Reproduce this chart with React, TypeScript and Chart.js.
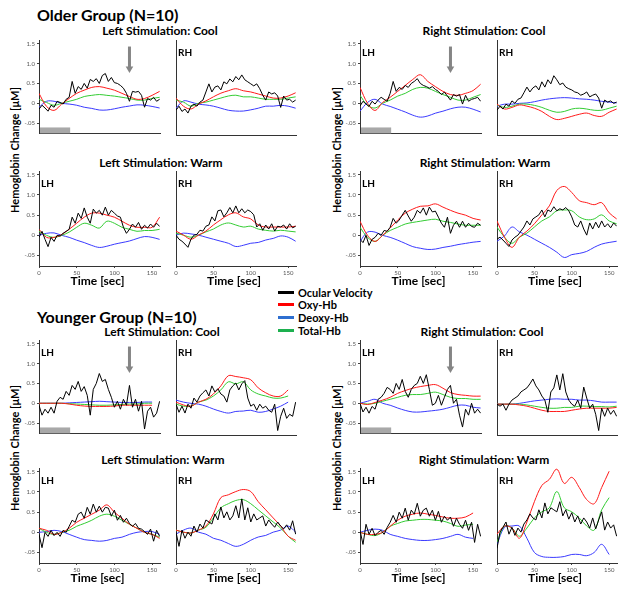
import React, { useEffect, useRef } from "react";
import { Chart, registerables } from "chart.js";
Chart.register(...registerables);

// ---------- axes / time bases ----------
const T_VEL = [0,4,8,12,16,20,24,28,32,36,40,44,48,52,56,60,64,68,72,76,80,84,88,92,96,100,104,108,112,116,120,124,128,132,136,140,144,148,152,156,160];
const T_HB = [0,10,20,30,40,50,60,70,80,90,100,110,120,130,140,150,160];
const X_TICKS = [0, 50, 100, 150];
const X_TICK_LABELS = ["0", "50", "100", "150"];
const Y_TICKS = [1.5, 1.0, 0.5, 0, -0.5];
const Y_TICK_LABELS = ["1.5", "1.0", "0.5", "0", "-.05"];
const X_MIN = 0, X_MAX = 160.5;
const Y_MIN = -0.76, Y_MAX = 1.58;
const STIM_WINDOW = [0, 40];
const STIM_BAR_TOP = -0.61;
const ARROW_TIME = 120;
const ARROW_FROM = 1.43;
const ARROW_TO = 0.76;

// ---------- Older group ----------
const OLC_LH_VEL = [-0.15,-0.05,-0.12,-0.2,-0.05,-0.1,0.05,0.02,-0.02,0.1,0.15,0.55,0.25,0.42,0.35,0.5,0.38,0.6,0.55,0.62,0.5,0.7,0.75,0.55,0.65,0.52,0.5,0.45,0.38,0.25,0.05,0.3,0.28,0.3,0.2,-0.1,0.12,0.08,0.15,0.05,0.1];
const OLC_LH_OXY = [0.25,-0.08,-0.18,-0.02,0.12,0.25,0.33,0.4,0.42,0.38,0.33,0.25,0.17,0.1,0.12,0.2,0.3];
const OLC_LH_TOT = [0.1,0.02,-0.05,0.0,0.05,0.1,0.17,0.2,0.22,0.2,0.18,0.15,0.12,0.08,0.08,0.12,0.15];
const OLC_LH_DEO = [-0.1,0.05,0.05,0.0,-0.02,-0.05,-0.1,-0.13,-0.17,-0.17,-0.14,-0.1,-0.07,-0.04,-0.05,-0.08,-0.12];

const OLC_RH_VEL = [-0.15,-0.05,-0.18,-0.12,-0.22,-0.05,0.0,-0.05,0.05,0.1,0.3,0.5,0.3,0.42,0.45,0.35,0.55,0.5,0.62,0.55,0.68,0.6,0.72,0.6,0.55,0.5,0.45,0.5,0.38,0.22,0.1,0.3,0.25,0.28,0.2,-0.08,0.2,0.1,0.12,0.05,0.1];
const OLC_RH_OXY = [0.15,-0.05,-0.12,0.0,0.08,0.18,0.27,0.33,0.38,0.33,0.3,0.25,0.2,0.15,0.15,0.2,0.28];
const OLC_RH_TOT = [0.1,0.05,-0.05,0.02,0.05,0.1,0.15,0.2,0.22,0.18,0.18,0.15,0.12,0.12,0.12,0.15,0.18];
const OLC_RH_DEO = [-0.1,0.08,0.05,0.0,-0.02,-0.05,-0.1,-0.15,-0.17,-0.17,-0.14,-0.1,-0.05,-0.05,-0.03,-0.05,-0.1];

const ORC_LH_VEL = [-0.07,0.05,-0.02,-0.08,0.05,-0.02,0.08,0.15,0.1,0.05,0.25,0.55,0.3,0.4,0.35,0.45,0.4,0.5,0.55,0.62,0.5,0.45,0.42,0.38,0.42,0.35,0.3,0.22,0.28,0.18,0.08,0.22,0.18,0.22,-0.02,0.2,0.05,0.1,0.12,0.15,0.05];
const ORC_LH_OXY = [0.4,0.0,-0.18,0.02,0.15,0.3,0.45,0.6,0.72,0.55,0.42,0.3,0.22,0.2,0.25,0.32,0.48];
const ORC_LH_TOT = [0.2,-0.05,-0.12,0.0,0.08,0.18,0.25,0.35,0.4,0.38,0.3,0.22,0.15,0.08,0.08,0.15,0.22];
const ORC_LH_DEO = [-0.2,0.02,0.1,-0.02,-0.08,-0.15,-0.22,-0.3,-0.35,-0.32,-0.25,-0.2,-0.14,-0.1,-0.1,-0.15,-0.22];

const ORC_RH_VEL = [-0.15,-0.05,-0.12,0.0,-0.05,0.08,0.02,0.12,0.15,0.28,0.42,0.3,0.4,0.45,0.35,0.55,0.42,0.6,0.5,0.7,0.6,0.48,0.52,0.42,0.38,0.35,0.3,0.28,0.22,0.25,0.3,0.18,0.22,0.25,0.15,-0.1,0.1,0.05,0.08,0.02,0.05];
const ORC_RH_OXY = [0.0,-0.12,-0.08,-0.02,-0.05,-0.1,-0.18,-0.3,-0.38,-0.35,-0.3,-0.25,-0.22,-0.28,-0.3,-0.2,-0.12];
const ORC_RH_TOT = [-0.02,-0.08,-0.05,0.0,0.0,-0.03,-0.08,-0.15,-0.2,-0.18,-0.12,-0.1,-0.12,-0.15,-0.15,-0.1,-0.05];
const ORC_RH_DEO = [-0.05,0.0,0.0,0.02,0.03,0.06,0.1,0.13,0.15,0.16,0.15,0.13,0.12,0.1,0.07,0.05,0.03];

const OLW_LH_VEL = [-0.05,0.1,-0.1,-0.28,-0.05,-0.15,0.0,-0.02,0.05,0.1,0.15,0.45,0.3,0.55,0.42,0.68,0.45,0.3,0.65,0.55,0.62,0.5,0.7,0.5,0.62,0.55,0.48,0.45,0.2,0.05,0.15,0.28,0.2,0.32,0.15,0.25,0.18,0.28,0.2,0.3,0.22];
const OLW_LH_OXY = [0.15,-0.05,-0.05,0.02,0.15,0.3,0.45,0.55,0.55,0.5,0.45,0.35,0.25,0.2,0.2,0.2,0.45];
const OLW_LH_TOT = [0.1,0.0,-0.05,0.0,0.08,0.2,0.3,0.25,0.18,0.35,0.3,0.2,0.15,0.1,0.12,0.12,0.15];
const OLW_LH_DEO = [0.0,0.05,0.06,0.0,-0.05,-0.12,-0.18,-0.25,-0.3,-0.27,-0.22,-0.18,-0.14,-0.08,-0.03,-0.05,-0.1];

const OLW_RH_VEL = [0.0,-0.1,-0.15,-0.22,-0.3,-0.1,0.0,0.02,0.12,0.1,0.22,0.25,0.45,0.35,0.6,0.62,0.45,0.55,0.68,0.55,0.72,0.55,0.65,0.55,0.62,0.58,0.5,0.2,0.28,0.12,0.25,0.15,0.28,0.1,0.22,0.2,0.25,0.15,0.28,0.18,0.22];
const OLW_RH_OXY = [0.1,0.0,-0.1,0.0,0.1,0.25,0.38,0.5,0.55,0.45,0.4,0.25,0.2,0.2,0.2,0.2,0.22];
const OLW_RH_TOT = [0.05,0.0,-0.05,0.0,0.08,0.15,0.25,0.3,0.25,0.2,0.22,0.15,0.12,0.1,0.12,0.1,0.08];
const OLW_RH_DEO = [0.0,0.05,0.03,0.0,-0.05,-0.1,-0.15,-0.2,-0.28,-0.25,-0.2,-0.18,-0.12,-0.08,-0.02,-0.05,-0.15];

const ORW_LH_VEL = [-0.1,-0.18,0.0,-0.25,-0.1,-0.05,0.05,0.0,0.12,0.1,0.2,0.42,0.3,0.38,0.5,0.62,0.48,0.35,0.45,0.62,0.55,0.68,0.5,0.7,0.58,0.6,0.45,0.3,0.2,0.45,0.05,0.25,0.35,0.2,0.35,0.2,0.3,0.22,0.2,0.3,0.25];
const ORW_LH_OXY = [0.35,0.0,-0.15,0.0,0.18,0.38,0.55,0.65,0.72,0.73,0.78,0.7,0.62,0.55,0.5,0.42,0.38];
const ORW_LH_TOT = [0.2,-0.05,-0.15,0.0,0.12,0.2,0.28,0.32,0.35,0.38,0.4,0.35,0.32,0.28,0.25,0.25,0.25];
const ORW_LH_DEO = [-0.15,0.08,0.08,0.0,-0.05,-0.12,-0.2,-0.28,-0.32,-0.35,-0.34,-0.3,-0.27,-0.23,-0.2,-0.17,-0.15];

const ORW_RH_VEL = [-0.1,-0.05,-0.12,-0.2,-0.28,-0.12,-0.05,0.0,0.1,0.2,0.35,0.25,0.4,0.45,0.5,0.62,0.45,0.62,0.58,0.7,0.6,0.65,0.62,0.68,0.6,0.45,0.25,0.2,0.35,0.15,0.0,0.3,0.15,0.32,0.18,0.35,0.2,0.28,0.18,0.3,0.22];
const ORW_RH_OXY = [0.35,-0.05,-0.3,-0.05,0.1,0.28,0.5,0.72,1.1,1.2,1.05,0.85,0.8,0.75,0.8,0.55,0.4];
const ORW_RH_TOT = [0.2,-0.05,-0.2,-0.05,0.05,0.2,0.35,0.45,0.6,0.62,0.6,0.45,0.38,0.4,0.5,0.35,0.28];
const ORW_RH_DEO = [-0.15,-0.02,0.2,0.08,0.0,-0.1,-0.2,-0.3,-0.42,-0.55,-0.48,-0.45,-0.4,-0.3,-0.22,-0.18,-0.15];

// ---------- Younger group ----------
const YLC_LH_VEL = [-0.05,-0.3,-0.15,-0.25,-0.1,-0.25,0.05,0.15,0.1,0.3,0.2,0.45,0.35,0.55,0.3,0.42,0.2,-0.3,0.35,0.5,0.75,0.55,0.6,0.35,0.15,-0.1,0.05,-0.15,0.1,-0.05,0.45,-0.1,0.1,-0.2,0.05,-0.65,-0.2,-0.1,-0.35,-0.25,0.05];
const YLC_LH_OXY = [0,0,0,0,-0.02,-0.05,-0.07,-0.08,-0.08,-0.08,-0.07,-0.05,-0.05,-0.05,-0.05,-0.05,null];
const YLC_LH_TOT = [0,0,0,0,-0.01,-0.02,-0.03,-0.04,-0.05,-0.05,-0.04,-0.03,-0.02,-0.02,0.0,0.0,null];
const YLC_LH_DEO = [0,0,0,0,0.01,0.02,0.03,0.04,0.05,0.04,0.03,0.02,0.02,0.02,0.03,0.03,null];

const YLC_RH_VEL = [0.0,-0.2,-0.05,-0.22,0.0,-0.1,0.15,0.05,0.2,0.28,0.35,0.2,0.45,0.3,0.38,0.25,0.2,0.05,0.35,0.45,0.52,0.35,0.5,0.58,0.15,-0.05,0.0,-0.15,0.0,-0.1,-0.05,-0.15,-0.2,0.0,-0.65,-0.3,-0.1,-0.35,-0.25,-0.3,0.05];
const YLC_RH_OXY = [0.05,-0.02,-0.05,0.05,0.12,0.25,0.45,0.7,0.68,0.65,0.6,0.4,0.28,0.2,0.2,0.35,null];
const YLC_RH_TOT = [0.0,-0.05,-0.05,0.05,0.1,0.2,0.35,0.55,0.5,0.55,0.35,0.25,0.2,0.15,0.15,0.2,null];
const YLC_RH_DEO = [0.1,0.05,0.02,0.0,-0.05,-0.12,-0.18,-0.22,-0.18,-0.17,-0.15,-0.2,-0.18,-0.12,-0.05,0.05,null];

const YRC_LH_VEL = [0.0,-0.22,-0.1,-0.25,-0.08,-0.15,0.1,0.15,0.25,0.4,0.35,0.25,0.5,0.35,0.6,0.3,0.15,0.35,0.45,0.5,0.68,0.5,0.72,0.35,-0.05,0.0,0.2,-0.05,0.15,0.35,0.45,0.0,0.1,-0.3,-0.6,-0.15,-0.3,0.0,-0.25,-0.15,-0.25];
const YRC_LH_OXY = [0.0,-0.03,0.02,0.08,0.15,0.25,0.32,0.38,0.42,0.45,0.47,0.38,0.27,0.22,0.2,0.18,0.18];
const YRC_LH_TOT = [0.0,-0.02,0.0,0.05,0.1,0.15,0.2,0.22,0.22,0.25,0.28,0.22,0.15,0.12,0.12,0.1,0.1];
const YRC_LH_DEO = [0.0,0.05,0.1,0.0,-0.05,-0.12,-0.18,-0.22,-0.22,-0.2,-0.18,-0.15,-0.1,-0.05,-0.05,-0.1,-0.12];

const YRC_RH_VEL = [0.0,-0.05,0.0,-0.15,0.0,0.1,0.15,0.2,0.3,0.35,0.4,0.5,0.62,0.45,0.35,0.2,0.1,-0.2,0.3,0.4,0.72,0.35,0.75,0.3,0.1,0.0,-0.05,0.1,-0.1,0.42,0.15,-0.1,0.0,-0.25,-0.65,-0.1,-0.3,-0.1,-0.25,-0.15,-0.3];
const YRC_RH_OXY = [0,0,0,-0.02,-0.05,-0.1,-0.15,-0.18,-0.18,-0.18,-0.15,-0.12,-0.1,-0.1,-0.1,-0.1,-0.08];
const YRC_RH_TOT = [0,0,0,0,-0.02,-0.05,-0.08,-0.1,-0.1,-0.08,-0.08,-0.05,-0.05,-0.06,-0.06,-0.07,-0.05];
const YRC_RH_DEO = [0,0,0,0.02,0.05,0.08,0.1,0.12,0.13,0.12,0.12,0.1,0.1,0.08,0.05,0.05,0.05];

const YLW_LH_VEL = [-0.05,-0.38,0.0,-0.1,0.05,-0.08,0.0,-0.1,0.05,0.0,0.15,0.3,0.25,0.45,0.5,0.35,0.62,0.45,0.7,0.5,0.65,0.5,0.62,0.6,0.4,0.55,0.3,0.42,0.25,0.35,0.22,0.15,0.22,0.1,0.08,0.02,-0.05,0.08,-0.22,0.05,-0.1];
const YLW_LH_OXY = [0.1,0.05,-0.05,0.0,0.1,0.25,0.35,0.45,0.55,0.68,0.5,0.35,0.2,0.1,0.0,-0.05,-0.15];
const YLW_LH_TOT = [0.1,0.0,-0.05,0.0,0.05,0.15,0.22,0.3,0.4,0.45,0.4,0.3,0.2,0.1,0.0,-0.05,-0.12];
const YLW_LH_DEO = [0.0,0.02,0.05,0.02,-0.05,-0.12,-0.18,-0.2,-0.22,-0.2,-0.15,-0.12,-0.05,0.0,0.02,0.02,-0.05];

const YLW_RH_VEL = [0.0,-0.35,0.05,-0.15,0.0,-0.1,0.15,0.0,0.2,0.1,0.3,0.25,0.2,0.45,0.3,0.62,0.35,0.5,0.3,0.4,0.65,0.35,0.82,0.3,0.6,0.25,0.45,0.3,0.35,0.4,0.15,0.3,0.2,0.12,0.25,0.15,0.08,0.18,0.05,0.28,-0.05];
const YLW_RH_OXY = [0.05,0.0,-0.02,0.05,0.15,0.45,0.85,0.92,1.0,1.05,1.0,0.75,0.55,0.35,0.15,-0.1,-0.2];
const YLW_RH_TOT = [0.05,0.0,-0.02,0.05,0.12,0.35,0.6,0.7,0.78,0.8,0.7,0.55,0.4,0.25,0.1,-0.1,-0.25];
const YLW_RH_DEO = [-0.05,0.05,0.1,0.0,-0.05,-0.15,-0.2,-0.28,-0.35,-0.3,-0.2,-0.12,-0.08,0.0,0.05,0.15,0.0];

const YRW_LH_VEL = [0.05,-0.3,0.2,-0.05,0.1,-0.08,0.0,0.05,-0.05,0.12,0.25,0.42,0.25,0.5,0.35,0.6,0.3,0.55,0.45,0.72,0.4,0.55,0.6,0.4,0.55,0.3,0.52,0.25,0.4,0.3,0.38,0.15,0.35,0.2,0.1,0.3,0.05,0.25,-0.25,0.2,-0.1];
const YRW_LH_OXY = [0.0,-0.05,-0.05,0.0,0.15,0.3,0.4,0.45,0.48,0.45,0.42,0.38,0.35,0.35,0.38,0.48,null];
const YRW_LH_TOT = [0.0,-0.05,-0.08,0.0,0.15,0.22,0.28,0.3,0.32,0.32,0.3,0.28,0.22,0.15,0.18,0.2,null];
const YRW_LH_DEO = [0.0,0.05,0.08,0.05,-0.05,-0.1,-0.15,-0.18,-0.2,-0.2,-0.18,-0.15,-0.1,-0.05,-0.12,-0.15,null];

const YRW_RH_VEL = [-0.4,0.0,0.12,0.25,-0.05,0.12,-0.08,0.1,0.0,0.2,0.3,0.45,0.35,0.3,0.55,0.35,0.72,0.45,0.6,0.55,0.5,0.75,0.4,0.55,0.32,0.48,0.25,0.4,0.2,0.35,0.25,0.1,0.35,0.08,0.3,0.5,0.05,0.25,0.1,0.18,-0.1];
const YRW_RH_OXY = [-0.05,0.15,0.1,-0.15,0.25,0.75,1.15,1.3,1.55,1.2,1.35,1.1,0.8,0.7,1.1,1.5,null];
const YRW_RH_TOT = [-0.25,0.15,0.1,-0.1,0.1,0.35,0.5,0.6,1.0,0.6,0.5,0.35,0.15,0.05,0.55,0.85,null];
const YRW_RH_DEO = [-0.3,0.12,0.15,0.15,-0.15,-0.5,-0.6,-0.62,-0.62,-0.6,-0.55,-0.55,-0.58,-0.5,-0.3,-0.55,null];

// ---------- legend ----------
const LEGEND_LABELS = ["Ocular Velocity", "Oxy-Hb", "Deoxy-Hb", "Total-Hb"];

// ---------- style / layout ----------
const FONT = "Lato, 'Open Sans', 'Noto Sans', sans-serif";
const C_VEL = "#000000";
const C_OXY = "#ff1a1a";
const C_DEO = "#3a3aff";
const C_TOT = "#33cc33";
const LEGEND_COLORS = ["#000000", "#ff0000", "#2e6fd0", "#1db04f"];
const COL_X = [39, 176, 360, 497];
const COL_W = [121, 120, 121, 120];
const ROW_Y = [40, 171, 340, 468];
const PLOT_H = 95;
const PAD_L = 24, PAD_T = 5, PAD_R = 4, PAD_B = 4, PAD_B_TICKS = 12;

type PanelCfg = {
  col: number; row: number; hemi: string; label: boolean; marks: boolean;
  vel: (number | null)[]; oxy: (number | null)[]; deo: (number | null)[]; tot: (number | null)[];
};

const PANELS: PanelCfg[] = [
  { col: 0, row: 0, hemi: "LH", label: false, marks: true, vel: OLC_LH_VEL, oxy: OLC_LH_OXY, deo: OLC_LH_DEO, tot: OLC_LH_TOT },
  { col: 1, row: 0, hemi: "RH", label: true, marks: false, vel: OLC_RH_VEL, oxy: OLC_RH_OXY, deo: OLC_RH_DEO, tot: OLC_RH_TOT },
  { col: 2, row: 0, hemi: "LH", label: true, marks: true, vel: ORC_LH_VEL, oxy: ORC_LH_OXY, deo: ORC_LH_DEO, tot: ORC_LH_TOT },
  { col: 3, row: 0, hemi: "RH", label: true, marks: false, vel: ORC_RH_VEL, oxy: ORC_RH_OXY, deo: ORC_RH_DEO, tot: ORC_RH_TOT },
  { col: 0, row: 1, hemi: "LH", label: true, marks: false, vel: OLW_LH_VEL, oxy: OLW_LH_OXY, deo: OLW_LH_DEO, tot: OLW_LH_TOT },
  { col: 1, row: 1, hemi: "RH", label: true, marks: false, vel: OLW_RH_VEL, oxy: OLW_RH_OXY, deo: OLW_RH_DEO, tot: OLW_RH_TOT },
  { col: 2, row: 1, hemi: "LH", label: true, marks: false, vel: ORW_LH_VEL, oxy: ORW_LH_OXY, deo: ORW_LH_DEO, tot: ORW_LH_TOT },
  { col: 3, row: 1, hemi: "RH", label: true, marks: false, vel: ORW_RH_VEL, oxy: ORW_RH_OXY, deo: ORW_RH_DEO, tot: ORW_RH_TOT },
  { col: 0, row: 2, hemi: "LH", label: true, marks: true, vel: YLC_LH_VEL, oxy: YLC_LH_OXY, deo: YLC_LH_DEO, tot: YLC_LH_TOT },
  { col: 1, row: 2, hemi: "RH", label: true, marks: false, vel: YLC_RH_VEL, oxy: YLC_RH_OXY, deo: YLC_RH_DEO, tot: YLC_RH_TOT },
  { col: 2, row: 2, hemi: "LH", label: true, marks: true, vel: YRC_LH_VEL, oxy: YRC_LH_OXY, deo: YRC_LH_DEO, tot: YRC_LH_TOT },
  { col: 3, row: 2, hemi: "RH", label: true, marks: false, vel: YRC_RH_VEL, oxy: YRC_RH_OXY, deo: YRC_RH_DEO, tot: YRC_RH_TOT },
  { col: 0, row: 3, hemi: "LH", label: true, marks: false, vel: YLW_LH_VEL, oxy: YLW_LH_OXY, deo: YLW_LH_DEO, tot: YLW_LH_TOT },
  { col: 1, row: 3, hemi: "RH", label: true, marks: false, vel: YLW_RH_VEL, oxy: YLW_RH_OXY, deo: YLW_RH_DEO, tot: YLW_RH_TOT },
  { col: 2, row: 3, hemi: "LH", label: true, marks: false, vel: YRW_LH_VEL, oxy: YRW_LH_OXY, deo: YRW_LH_DEO, tot: YRW_LH_TOT },
  { col: 3, row: 3, hemi: "RH", label: true, marks: false, vel: YRW_RH_VEL, oxy: YRW_RH_OXY, deo: YRW_RH_DEO, tot: YRW_RH_TOT },
];

function Panel({ cfg }: { cfg: PanelCfg }) {
  const ref = useRef<HTMLCanvasElement>(null);
  const showY = cfg.col === 0 || cfg.col === 2;
  const showX = cfg.row === 1 || cfg.row === 3;
  const padB = showX ? PAD_B_TICKS : PAD_B;
  const w = PAD_L + COL_W[cfg.col] + PAD_R;
  const h = PAD_T + PLOT_H + padB;
  const left = COL_X[cfg.col] - PAD_L;
  const top = ROW_Y[cfg.row] - PAD_T;

  useEffect(() => {
    const c = ref.current;
    if (!c) return;
    const pts = (ts: number[], vs: (number | null)[]) => ts.map((t, i) => ({ x: t, y: vs[i] }));
    const marks = {
      id: "marks",
      beforeDatasetsDraw(chart: any) {
        if (!cfg.marks) return;
        const { ctx, scales } = chart;
        const x0 = scales.x.getPixelForValue(STIM_WINDOW[0]);
        const x1 = scales.x.getPixelForValue(STIM_WINDOW[1]);
        const y0 = scales.y.getPixelForValue(STIM_BAR_TOP);
        const y1 = scales.y.getPixelForValue(Y_MIN);
        ctx.save();
        ctx.fillStyle = "#a8a8a8";
        ctx.fillRect(x0 + 1, y0, x1 - x0, y1 - y0);
        ctx.restore();
      },
      afterDatasetsDraw(chart: any) {
        if (!cfg.marks) return;
        const { ctx, scales } = chart;
        const ax = scales.x.getPixelForValue(ARROW_TIME);
        const yTop = scales.y.getPixelForValue(ARROW_FROM);
        const yBot = scales.y.getPixelForValue(ARROW_TO);
        ctx.save();
        ctx.fillStyle = "#858585";
        ctx.fillRect(ax - 1.5, yTop, 3, yBot - yTop - 6);
        ctx.beginPath();
        ctx.moveTo(ax - 3.8, yBot - 6.5);
        ctx.lineTo(ax + 3.8, yBot - 6.5);
        ctx.lineTo(ax, yBot);
        ctx.closePath();
        ctx.fill();
        ctx.restore();
      },
    };
    const chart = new Chart(c, {
      type: "line",
      data: {
        datasets: [
          { data: pts(T_VEL, cfg.vel), borderColor: C_VEL, borderWidth: 1, tension: 0 },
          { data: pts(T_HB, cfg.oxy), borderColor: C_OXY, borderWidth: 1, tension: 0.35 },
          { data: pts(T_HB, cfg.tot), borderColor: C_TOT, borderWidth: 1, tension: 0.35 },
          { data: pts(T_HB, cfg.deo), borderColor: C_DEO, borderWidth: 1, tension: 0.35 },
        ] as any,
      },
      options: {
        animation: false,
        responsive: false,
        devicePixelRatio: 1,
        events: [],
        layout: { padding: { top: PAD_T, right: PAD_R, left: 0, bottom: 0 } },
        elements: { point: { radius: 0 } },
        plugins: { legend: { display: false }, tooltip: { enabled: false } },
        scales: {
          x: {
            type: "linear",
            min: X_MIN,
            max: X_MAX,
            afterBuildTicks: (axis: any) => { axis.ticks = X_TICKS.map((v) => ({ value: v })); },
            afterFit: (axis: any) => { axis.height = padB; },
            ticks: {
              display: showX,
              autoSkip: false,
              maxRotation: 0,
              padding: 1,
              font: { size: 6, family: FONT },
              color: "#555",
              callback: (v: any) => X_TICK_LABELS[X_TICKS.indexOf(Number(v))],
            },
            grid: { display: showX, drawOnChartArea: false, drawTicks: true, tickLength: 2, color: "#444" },
            border: { display: true, color: "#333", width: 1 },
          },
          y: {
            type: "linear",
            min: Y_MIN,
            max: Y_MAX,
            afterBuildTicks: (axis: any) => { axis.ticks = Y_TICKS.map((v) => ({ value: v })); },
            afterFit: (axis: any) => { axis.width = PAD_L; },
            ticks: {
              display: showY,
              autoSkip: false,
              padding: 2,
              font: { size: 6, family: FONT },
              color: "#555",
              callback: (v: any) => Y_TICK_LABELS[Y_TICKS.indexOf(Number(v))],
            },
            grid: { display: showY, drawOnChartArea: false, drawTicks: true, tickLength: 2, color: "#444" },
            border: { display: true, color: "#333", width: 1 },
          },
        },
      } as any,
      plugins: [marks],
    });
    return () => chart.destroy();
  }, []);

  return (
    <>
      <canvas ref={ref} width={w} height={h} style={{ position: "absolute", left, top, width: w, height: h }} />
      {cfg.label && (
        <div style={{ position: "absolute", left: COL_X[cfg.col] + 2, top: ROW_Y[cfg.row] + 7, font: `bold 10px ${FONT}`, lineHeight: "10px" }}>
          {cfg.hemi}
        </div>
      )}
      {showX && (
        <div style={{ position: "absolute", left: COL_X[cfg.col] + COL_W[cfg.col] / 2 - 2, top: ROW_Y[cfg.row] + PLOT_H + 14, transform: "translate(-50%,-50%)", font: `bold 12px ${FONT}`, whiteSpace: "nowrap" }}>
          Time [sec]
        </div>
      )}
    </>
  );
}

function Txt({ x, y, size, children, anchor = "center", rotate = false }: any) {
  const tx = anchor === "center" ? "-50%" : "0";
  return (
    <div style={{ position: "absolute", left: x, top: y, transform: `translate(${tx},-50%)${rotate ? " rotate(-90deg)" : ""}`, transformOrigin: rotate ? "0 50%" : undefined, font: `bold ${size}px ${FONT}`, whiteSpace: "nowrap", lineHeight: 1 }}>
      {children}
    </div>
  );
}

function VLabel({ x, y }: { x: number; y: number }) {
  return (
    <div style={{ position: "absolute", left: x, top: y, transform: "translate(-50%,-50%) rotate(-90deg)", font: `bold 11px ${FONT}`, whiteSpace: "nowrap", lineHeight: 1 }}>
      Hemoglobin Change [μM]
    </div>
  );
}

export default function App() {
  useEffect(() => { document.body.style.margin = "0"; }, []);
  return (
    <div style={{ position: "absolute", left: 0, top: 0, width: 627, height: 592, background: "#fff", overflow: "hidden", color: "#000" }}>
      <Txt x={37} y={15} size={16} anchor="left">Older Group (N=10)</Txt>
      <Txt x={160} y={31} size={12}>Left Stimulation: Cool</Txt>
      <Txt x={484} y={31} size={12}>Right Stimulation: Cool</Txt>
      <Txt x={161} y={163} size={12}>Left Stimulation: Warm</Txt>
      <Txt x={485} y={163} size={12}>Right Stimulation: Warm</Txt>
      <Txt x={37} y={317} size={16} anchor="left">Younger Group (N=10)</Txt>
      <Txt x={162} y={332} size={12}>Left Stimulation: Cool</Txt>
      <Txt x={482} y={332} size={12}>Right Stimulation: Cool</Txt>
      <Txt x={163} y={460} size={12}>Left Stimulation: Warm</Txt>
      <Txt x={484} y={460} size={12}>Right Stimulation: Warm</Txt>
      <VLabel x={14} y={150} />
      <VLabel x={336} y={150} />
      <VLabel x={14} y={448} />
      <VLabel x={336} y={448} />
      {LEGEND_LABELS.map((lab, i) => (
        <React.Fragment key={lab}>
          <div style={{ position: "absolute", left: 278, top: [292, 304, 317, 330][i] - 1.5, width: 16, height: 3, background: LEGEND_COLORS[i] }} />
          <Txt x={298} y={[292, 304, 317, 330][i]} size={11} anchor="left">{lab}</Txt>
        </React.Fragment>
      ))}
      {PANELS.map((p, i) => <Panel key={i} cfg={p} />)}
    </div>
  );
}
